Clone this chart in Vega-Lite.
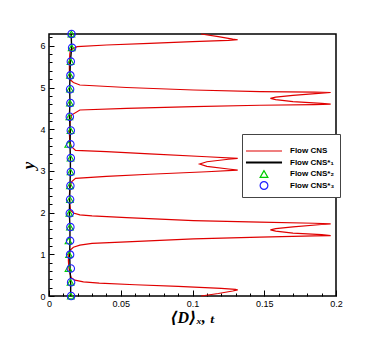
{
  "$schema": "https://vega.github.io/schema/vega-lite/v6.json",
  "width": 287,
  "height": 262,
  "autosize": {"type": "none"},
  "padding": {"left": 49, "top": 34, "right": 46, "bottom": 44},
  "background": "white",
  "config": {
    "view": {"stroke": "black", "strokeWidth": 1.5},
    "axis": {"labelFont": "Liberation Sans", "labelFontSize": 9, "labelColor": "black", "tickColor": "black", "grid": false, "domain": false, "labelFlush": false, "labelOverlap": false}
  },
  "datasets": {
    "curves": [
      {"series": "Flow CNS", "x": 0.106, "y": 0.0},
      {"series": "Flow CNS", "x": 0.118, "y": 0.06},
      {"series": "Flow CNS", "x": 0.128, "y": 0.12},
      {"series": "Flow CNS", "x": 0.1315, "y": 0.145},
      {"series": "Flow CNS", "x": 0.130, "y": 0.16},
      {"series": "Flow CNS", "x": 0.120, "y": 0.185},
      {"series": "Flow CNS", "x": 0.09, "y": 0.23},
      {"series": "Flow CNS", "x": 0.06, "y": 0.27},
      {"series": "Flow CNS", "x": 0.035, "y": 0.31},
      {"series": "Flow CNS", "x": 0.024, "y": 0.34},
      {"series": "Flow CNS", "x": 0.018, "y": 0.38},
      {"series": "Flow CNS", "x": 0.0155, "y": 0.44},
      {"series": "Flow CNS", "x": 0.0145, "y": 0.55},
      {"series": "Flow CNS", "x": 0.0138, "y": 0.7},
      {"series": "Flow CNS", "x": 0.0135, "y": 0.85},
      {"series": "Flow CNS", "x": 0.0138, "y": 1.0},
      {"series": "Flow CNS", "x": 0.0148, "y": 1.1},
      {"series": "Flow CNS", "x": 0.017, "y": 1.17},
      {"series": "Flow CNS", "x": 0.0215, "y": 1.22},
      {"series": "Flow CNS", "x": 0.03, "y": 1.26},
      {"series": "Flow CNS", "x": 0.054, "y": 1.30},
      {"series": "Flow CNS", "x": 0.1007, "y": 1.37},
      {"series": "Flow CNS", "x": 0.147, "y": 1.41},
      {"series": "Flow CNS", "x": 0.185, "y": 1.44},
      {"series": "Flow CNS", "x": 0.1963, "y": 1.45},
      {"series": "Flow CNS", "x": 0.19, "y": 1.47},
      {"series": "Flow CNS", "x": 0.17, "y": 1.51},
      {"series": "Flow CNS", "x": 0.158, "y": 1.555},
      {"series": "Flow CNS", "x": 0.1543, "y": 1.585},
      {"series": "Flow CNS", "x": 0.158, "y": 1.615},
      {"series": "Flow CNS", "x": 0.17, "y": 1.66},
      {"series": "Flow CNS", "x": 0.19, "y": 1.715},
      {"series": "Flow CNS", "x": 0.1963, "y": 1.73},
      {"series": "Flow CNS", "x": 0.185, "y": 1.745},
      {"series": "Flow CNS", "x": 0.147, "y": 1.77},
      {"series": "Flow CNS", "x": 0.1007, "y": 1.81},
      {"series": "Flow CNS", "x": 0.054, "y": 1.88},
      {"series": "Flow CNS", "x": 0.03, "y": 1.92},
      {"series": "Flow CNS", "x": 0.0215, "y": 1.944},
      {"series": "Flow CNS", "x": 0.017, "y": 1.99},
      {"series": "Flow CNS", "x": 0.015, "y": 2.06},
      {"series": "Flow CNS", "x": 0.0145, "y": 2.2},
      {"series": "Flow CNS", "x": 0.0142, "y": 2.4},
      {"series": "Flow CNS", "x": 0.0145, "y": 2.6},
      {"series": "Flow CNS", "x": 0.0157, "y": 2.74},
      {"series": "Flow CNS", "x": 0.0185, "y": 2.82},
      {"series": "Flow CNS", "x": 0.04, "y": 2.87},
      {"series": "Flow CNS", "x": 0.07, "y": 2.92},
      {"series": "Flow CNS", "x": 0.11, "y": 2.98},
      {"series": "Flow CNS", "x": 0.1315, "y": 3.02},
      {"series": "Flow CNS", "x": 0.125, "y": 3.045},
      {"series": "Flow CNS", "x": 0.11, "y": 3.11},
      {"series": "Flow CNS", "x": 0.105, "y": 3.165},
      {"series": "Flow CNS", "x": 0.11, "y": 3.22},
      {"series": "Flow CNS", "x": 0.125, "y": 3.28},
      {"series": "Flow CNS", "x": 0.1315, "y": 3.30},
      {"series": "Flow CNS", "x": 0.11, "y": 3.34},
      {"series": "Flow CNS", "x": 0.07, "y": 3.41},
      {"series": "Flow CNS", "x": 0.04, "y": 3.46},
      {"series": "Flow CNS", "x": 0.0185, "y": 3.49},
      {"series": "Flow CNS", "x": 0.0157, "y": 3.58},
      {"series": "Flow CNS", "x": 0.0145, "y": 3.7},
      {"series": "Flow CNS", "x": 0.0142, "y": 3.9},
      {"series": "Flow CNS", "x": 0.0145, "y": 4.1},
      {"series": "Flow CNS", "x": 0.015, "y": 4.25},
      {"series": "Flow CNS", "x": 0.0157, "y": 4.34},
      {"series": "Flow CNS", "x": 0.0215, "y": 4.46},
      {"series": "Flow CNS", "x": 0.054, "y": 4.50},
      {"series": "Flow CNS", "x": 0.1007, "y": 4.54},
      {"series": "Flow CNS", "x": 0.147, "y": 4.575},
      {"series": "Flow CNS", "x": 0.185, "y": 4.59},
      {"series": "Flow CNS", "x": 0.1963, "y": 4.60},
      {"series": "Flow CNS", "x": 0.19, "y": 4.62},
      {"series": "Flow CNS", "x": 0.17, "y": 4.66},
      {"series": "Flow CNS", "x": 0.158, "y": 4.71},
      {"series": "Flow CNS", "x": 0.1543, "y": 4.74},
      {"series": "Flow CNS", "x": 0.158, "y": 4.77},
      {"series": "Flow CNS", "x": 0.17, "y": 4.81},
      {"series": "Flow CNS", "x": 0.19, "y": 4.865},
      {"series": "Flow CNS", "x": 0.1963, "y": 4.88},
      {"series": "Flow CNS", "x": 0.185, "y": 4.89},
      {"series": "Flow CNS", "x": 0.147, "y": 4.90},
      {"series": "Flow CNS", "x": 0.1007, "y": 4.94},
      {"series": "Flow CNS", "x": 0.054, "y": 5.0},
      {"series": "Flow CNS", "x": 0.0215, "y": 5.06},
      {"series": "Flow CNS", "x": 0.017, "y": 5.12},
      {"series": "Flow CNS", "x": 0.015, "y": 5.18},
      {"series": "Flow CNS", "x": 0.0142, "y": 5.4},
      {"series": "Flow CNS", "x": 0.0142, "y": 5.6},
      {"series": "Flow CNS", "x": 0.0145, "y": 5.8},
      {"series": "Flow CNS", "x": 0.015, "y": 5.90},
      {"series": "Flow CNS", "x": 0.0196, "y": 5.98},
      {"series": "Flow CNS", "x": 0.04, "y": 6.02},
      {"series": "Flow CNS", "x": 0.07, "y": 6.06},
      {"series": "Flow CNS", "x": 0.1, "y": 6.10},
      {"series": "Flow CNS", "x": 0.125, "y": 6.13},
      {"series": "Flow CNS", "x": 0.1315, "y": 6.145},
      {"series": "Flow CNS", "x": 0.128, "y": 6.16},
      {"series": "Flow CNS", "x": 0.118, "y": 6.22},
      {"series": "Flow CNS", "x": 0.106, "y": 6.2832},
      {"series": "Flow CNS*₁", "x": 0.0151, "y": 0.0},
      {"series": "Flow CNS*₁", "x": 0.0151, "y": 0.3307},
      {"series": "Flow CNS*₁", "x": 0.0147, "y": 0.6614},
      {"series": "Flow CNS*₁", "x": 0.0144, "y": 0.9921},
      {"series": "Flow CNS*₁", "x": 0.0146, "y": 1.3228},
      {"series": "Flow CNS*₁", "x": 0.0146, "y": 1.6535},
      {"series": "Flow CNS*₁", "x": 0.0142, "y": 1.9842},
      {"series": "Flow CNS*₁", "x": 0.0144, "y": 2.3149},
      {"series": "Flow CNS*₁", "x": 0.0146, "y": 2.6456},
      {"series": "Flow CNS*₁", "x": 0.0149, "y": 2.9763},
      {"series": "Flow CNS*₁", "x": 0.0149, "y": 3.3069},
      {"series": "Flow CNS*₁", "x": 0.0146, "y": 3.6376},
      {"series": "Flow CNS*₁", "x": 0.0149, "y": 3.9683},
      {"series": "Flow CNS*₁", "x": 0.0142, "y": 4.299},
      {"series": "Flow CNS*₁", "x": 0.0146, "y": 4.6297},
      {"series": "Flow CNS*₁", "x": 0.0144, "y": 4.9604},
      {"series": "Flow CNS*₁", "x": 0.0146, "y": 5.2911},
      {"series": "Flow CNS*₁", "x": 0.0149, "y": 5.6218},
      {"series": "Flow CNS*₁", "x": 0.0158, "y": 5.9525},
      {"series": "Flow CNS*₁", "x": 0.0154, "y": 6.2832}
    ],
    "marks": [
      {"series": "Flow CNS*₂", "x": 0.0152, "y": 0.0},
      {"series": "Flow CNS*₂", "x": 0.0150, "y": 0.3307},
      {"series": "Flow CNS*₂", "x": 0.0136, "y": 0.6614},
      {"series": "Flow CNS*₂", "x": 0.0140, "y": 0.9921},
      {"series": "Flow CNS*₂", "x": 0.0136, "y": 1.3228},
      {"series": "Flow CNS*₂", "x": 0.0146, "y": 1.6535},
      {"series": "Flow CNS*₂", "x": 0.0142, "y": 1.9842},
      {"series": "Flow CNS*₂", "x": 0.0146, "y": 2.3149},
      {"series": "Flow CNS*₂", "x": 0.0146, "y": 2.6456},
      {"series": "Flow CNS*₂", "x": 0.0150, "y": 2.9763},
      {"series": "Flow CNS*₂", "x": 0.0150, "y": 3.3069},
      {"series": "Flow CNS*₂", "x": 0.0134, "y": 3.6376},
      {"series": "Flow CNS*₂", "x": 0.0150, "y": 3.9683},
      {"series": "Flow CNS*₂", "x": 0.0142, "y": 4.299},
      {"series": "Flow CNS*₂", "x": 0.0146, "y": 4.6297},
      {"series": "Flow CNS*₂", "x": 0.0146, "y": 4.9604},
      {"series": "Flow CNS*₂", "x": 0.0146, "y": 5.2911},
      {"series": "Flow CNS*₂", "x": 0.0150, "y": 5.6218},
      {"series": "Flow CNS*₂", "x": 0.0158, "y": 5.9525},
      {"series": "Flow CNS*₂", "x": 0.0156, "y": 6.2832},
      {"series": "Flow CNS*₃", "x": 0.0154, "y": 0.0},
      {"series": "Flow CNS*₃", "x": 0.0154, "y": 0.3307},
      {"series": "Flow CNS*₃", "x": 0.0152, "y": 0.6614},
      {"series": "Flow CNS*₃", "x": 0.0147, "y": 0.9921},
      {"series": "Flow CNS*₃", "x": 0.0147, "y": 1.3228},
      {"series": "Flow CNS*₃", "x": 0.0149, "y": 1.6535},
      {"series": "Flow CNS*₃", "x": 0.0145, "y": 1.9842},
      {"series": "Flow CNS*₃", "x": 0.0147, "y": 2.3149},
      {"series": "Flow CNS*₃", "x": 0.0149, "y": 2.6456},
      {"series": "Flow CNS*₃", "x": 0.0152, "y": 2.9763},
      {"series": "Flow CNS*₃", "x": 0.0152, "y": 3.3069},
      {"series": "Flow CNS*₃", "x": 0.0149, "y": 3.6376},
      {"series": "Flow CNS*₃", "x": 0.0152, "y": 3.9683},
      {"series": "Flow CNS*₃", "x": 0.0145, "y": 4.299},
      {"series": "Flow CNS*₃", "x": 0.0149, "y": 4.6297},
      {"series": "Flow CNS*₃", "x": 0.0147, "y": 4.9604},
      {"series": "Flow CNS*₃", "x": 0.0149, "y": 5.2911},
      {"series": "Flow CNS*₃", "x": 0.0152, "y": 5.6218},
      {"series": "Flow CNS*₃", "x": 0.0161, "y": 5.9525},
      {"series": "Flow CNS*₃", "x": 0.0157, "y": 6.2832}
    ]
  },
  "resolve": {"axis": {"x": "independent", "y": "independent"}},
  "layer": [
    {
      "data": {"name": "curves"},
      "transform": [{"filter": "datum.series == 'Flow CNS'"}],
      "mark": {"type": "line", "strokeWidth": 1.2},
      "encoding": {
        "x": {"field": "x", "type": "quantitative", "scale": {"domain": [0, 0.2], "nice": false},
          "axis": {"orient": "bottom", "values": [0, 0.05, 0.1, 0.15, 0.2], "format": "~g", "tickSize": -6, "labelPadding": 9,
            "title": "⟨D⟩ₓ, ₜ", "titleFont": "Liberation Serif, DejaVu Serif", "titleFontSize": 16, "titleFontWeight": "bold", "titleFontStyle": "italic", "titlePadding": 1, "titleColor": "black"}},
        "y": {"field": "y", "type": "quantitative", "scale": {"domain": [0, 6.2832], "nice": false},
          "axis": {"orient": "left", "values": [0, 1, 2, 3, 4, 5, 6], "format": "d", "tickSize": -5, "labelPadding": 9,
            "title": "y", "titleFont": "Liberation Serif", "titleFontSize": 17, "titleFontWeight": "bold", "titleFontStyle": "italic", "titlePadding": 2, "titleColor": "black"}},
        "color": {"field": "series", "type": "nominal",
          "scale": {"domain": ["Flow CNS", "Flow CNS*₁", "Flow CNS*₂", "Flow CNS*₃"], "range": ["#e00000", "#000000", "#00cc00", "#2020ff"]},
          "legend": {
            "orient": "none", "legendX": 193, "legendY": 100,
            "title": " ", "titleFontSize": 4, "titlePadding": 4,
            "padding": 5, "strokeColor": "#444444", "fillColor": "white",
            "labelFont": "Liberation Sans", "labelFontWeight": "bold", "labelFontSize": 8, "labelColor": "black",
            "symbolSize": 60, "symbolOffset": 13, "labelOffset": 22, "rowPadding": -2.5, "gridAlign": "all",
            "encode": {"symbols": {"update": {
              "shape": {"signal": "datum.index < 2 ? 'stroke' : (datum.index == 2 ? 'triangle-up' : 'circle')"},
              "size": {"signal": "datum.index < 2 ? 1300 : 60"},
              "strokeWidth": {"signal": "datum.index == 1 ? 2 : 1.2"},
              "stroke": {"signal": "scale('color', datum.value)"},
              "fill": {"value": "transparent"},
              "opacity": {"value": 1}
            }}}
          }},
        "order": {"value": null}
      }
    },
    {
      "data": {"name": "curves"},
      "transform": [{"filter": "datum.series == 'Flow CNS*₁'"}],
      "mark": {"type": "line", "strokeWidth": 1.4},
      "encoding": {
        "x": {"field": "x", "type": "quantitative",
          "axis": {"orient": "bottom", "values": [0.01,0.02,0.03,0.04,0.06,0.07,0.08,0.09,0.11,0.12,0.13,0.14,0.16,0.17,0.18,0.19], "labels": false, "tickSize": -3, "title": null}},
        "y": {"field": "y", "type": "quantitative",
          "axis": {"orient": "left", "values": [0.2,0.4,0.6,0.8,1.2,1.4,1.6,1.8,2.2,2.4,2.6,2.8,3.2,3.4,3.6,3.8,4.2,4.4,4.6,4.8,5.2,5.4,5.6,5.8,6.2], "labels": false, "tickSize": -3, "title": null}},
        "color": {"field": "series", "type": "nominal"},
        "order": {"value": null}
      }
    },
    {
      "data": {"name": "marks"},
      "transform": [{"filter": "datum.series == 'Flow CNS*₂'"}],
      "mark": {"type": "point", "shape": "triangle-up", "filled": false, "size": 45, "strokeWidth": 1.1, "opacity": 1},
      "encoding": {
        "x": {"field": "x", "type": "quantitative", "axis": null},
        "y": {"field": "y", "type": "quantitative", "axis": null},
        "color": {"field": "series", "type": "nominal"}
      }
    },
    {
      "data": {"name": "marks"},
      "transform": [{"filter": "datum.series == 'Flow CNS*₃'"}],
      "mark": {"type": "point", "shape": "circle", "filled": false, "size": 55, "strokeWidth": 1.1, "opacity": 1},
      "encoding": {
        "x": {"field": "x", "type": "quantitative", "axis": null},
        "y": {"field": "y", "type": "quantitative", "axis": null},
        "color": {"field": "series", "type": "nominal"}
      }
    }
  ]
}
